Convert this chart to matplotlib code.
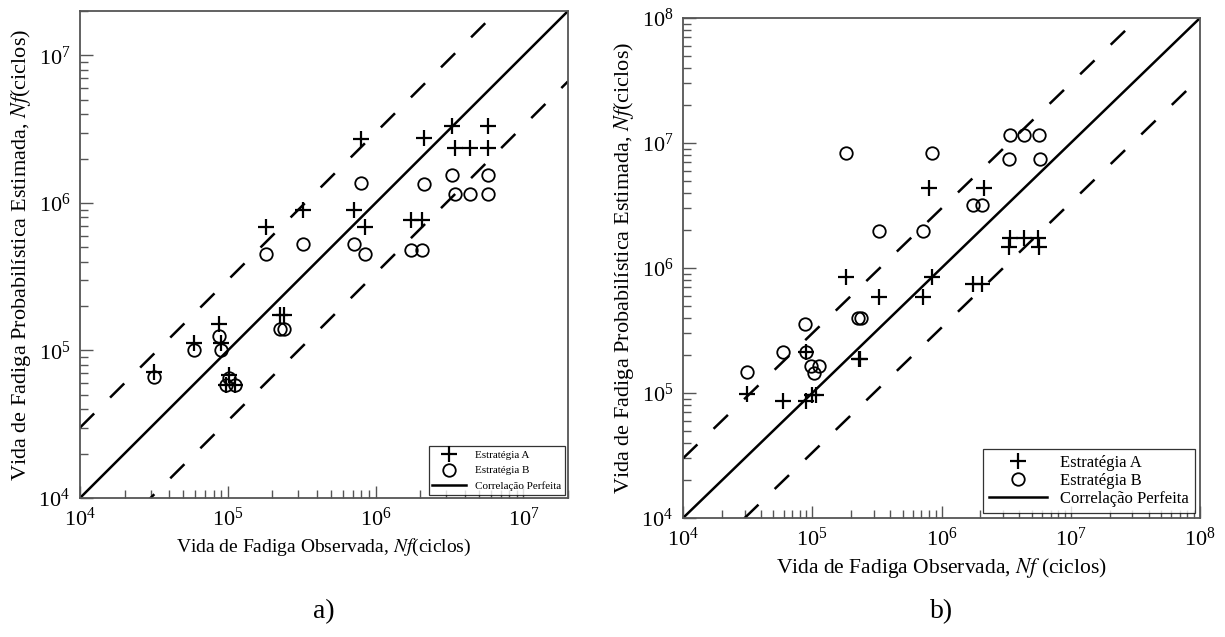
import numpy as np
import matplotlib.pyplot as plt

plt.rcParams['font.family'] = ['Liberation Serif', 'DejaVu Serif']
plt.rcParams['mathtext.fontset'] = 'stix'

# painel a)
xa_A = [3.15e4, 5.95e4, 8.7e4, 9.0e4, 1.02e5, 9.7e4, 1.12e5, 2.26e5, 2.38e5, 1.82e5, 3.22e5,
        7.15e5, 8.5e5, 7.9e5, 1.74e6, 2.07e6, 2.12e6, 3.29e6, 5.75e6, 3.43e6, 4.33e6, 5.75e6]
ya_A = [7.1e4, 1.13e5, 1.5e5, 1.13e5, 6.8e4, 5.8e4, 5.8e4, 1.75e5, 1.75e5, 6.9e5, 9.0e5,
        9.0e5, 6.9e5, 2.73e6, 7.7e5, 7.7e5, 2.74e6, 3.34e6, 3.34e6, 2.35e6, 2.35e6, 2.35e6]
xa_B = [3.15e4, 5.95e4, 8.7e4, 9.0e4, 1.02e5, 9.7e4, 1.12e5, 2.26e5, 2.38e5, 1.82e5, 3.22e5,
        7.15e5, 8.5e5, 7.9e5, 1.74e6, 2.07e6, 2.12e6, 3.29e6, 5.75e6, 3.43e6, 4.33e6, 5.75e6]
ya_B = [6.6e4, 1.0e5, 1.25e5, 1.0e5, 6.5e4, 5.8e4, 5.8e4, 1.4e5, 1.4e5, 4.48e5, 5.3e5,
        5.3e5, 4.48e5, 1.36e6, 4.77e5, 4.77e5, 1.34e6, 1.55e6, 1.55e6, 1.15e6, 1.15e6, 1.15e6]

# painel b)
xb_A = [3.15e4, 5.95e4, 8.9e4, 1.0e5, 1.06e5, 8.9e4, 2.28e5, 2.34e5, 1.82e5, 3.3e5, 7.16e5,
        8.5e5, 7.96e5, 1.75e6, 2.07e6, 2.14e6, 3.35e6, 5.7e6, 3.4e6, 4.37e6, 5.6e6]
yb_A = [9.75e4, 8.7e4, 8.7e4, 9.7e4, 9.7e4, 2.12e5, 1.87e5, 1.87e5, 8.47e5, 5.86e5, 5.86e5,
        8.47e5, 4.35e6, 7.47e5, 7.47e5, 4.35e6, 1.47e6, 1.47e6, 1.73e6, 1.73e6, 1.73e6]
xb_B = [3.15e4, 5.95e4, 8.8e4, 8.9e4, 9.8e4, 1.13e5, 1.03e5, 2.26e5, 2.38e5, 1.82e5, 3.3e5,
        7.16e5, 8.5e5, 1.75e6, 2.07e6, 3.35e6, 3.4e6, 4.37e6, 5.7e6, 5.75e6]
yb_B = [1.47e5, 2.12e5, 3.56e5, 2.12e5, 1.64e5, 1.64e5, 1.45e5, 3.95e5, 3.95e5, 8.38e6, 1.99e6,
        1.99e6, 8.38e6, 3.2e6, 3.2e6, 7.47e6, 1.15e7, 1.15e7, 1.15e7, 7.47e6]

limites = [(1e4, 2e7), (1e4, 1e8)]
fator = 3.0

W, H = 1225, 637
fig = plt.figure(figsize=(12.25, 6.37), dpi=100)
ax1 = fig.add_axes([80/W, 1-498/H, 488/W, 487/H])
ax2 = fig.add_axes([683/W, 1-518/H, 517/W, 500/H])

# ax, dados, limites, letra, tamanho xlabel, texto xlabel, legenda (fonte, handlelength, espaco)
paineis = [
    (ax1, xa_A, ya_A, xa_B, ya_B, limites[0], 'a)', 14,
     r'Vida de Fadiga Observada, $Nf$(ciclos)', 8, 3.0, 0.5),
    (ax2, xb_A, yb_A, xb_B, yb_B, limites[1], 'b)', 15.5,
     r'Vida de Fadiga Observada, $Nf$ (ciclos)', 12, 3.5, 0.12),
]

for ax, xA, yA, xB, yB, lim, letra, fsx, txtx, fsleg, hl, esp in paineis:
    ax.set_xscale('log')
    ax.set_yscale('log')
    ax.set_xlim(lim)
    ax.set_ylim(lim)
    ref = np.array(lim)
    ax.plot(xA, yA, '+', color='black', markersize=11, markeredgewidth=1.6,
            linestyle='none', label='Estratégia A')
    ax.plot(xB, yB, 'o', markerfacecolor='none', markeredgecolor='black',
            markersize=9, markeredgewidth=1.3, linestyle='none', label='Estratégia B')
    ax.plot(ref, ref, '-', color='black', lw=1.8, label='Correlação Perfeita')
    ax.plot(ref, ref*fator, color='black', lw=1.8, linestyle=(0, (8, 9)))
    ax.plot(ref, ref/fator, color='black', lw=1.8, linestyle=(0, (8, 9)))
    for s in ax.spines.values():
        s.set_color('#555555')
        s.set_linewidth(1.3)
    ax.tick_params(which='both', direction='in', top=False, right=False,
                   color='#555555', labelsize=16)
    ax.tick_params(which='major', length=9, width=1.0, pad=7)
    ax.tick_params(which='minor', length=6, width=1.0)
    ax.set_xlabel(txtx, fontsize=fsx, labelpad=4)
    ax.set_ylabel(r'Vida de Fadiga Probabilística Estimada, $Nf$(ciclos)', fontsize=16, labelpad=4)
    leg = ax.legend(loc='lower right', fontsize=fsleg, frameon=True, fancybox=False,
                    edgecolor='black', handlelength=hl, borderaxespad=0.3,
                    labelspacing=esp, handletextpad=0.8, borderpad=0.35)
    leg.get_frame().set_linewidth(0.9)
    pos = ax.get_position()
    fig.text(pos.x0 + pos.width/2, 0.04, letra, ha='center', va='center', fontsize=20)

fig.savefig('out.png', dpi=100)
